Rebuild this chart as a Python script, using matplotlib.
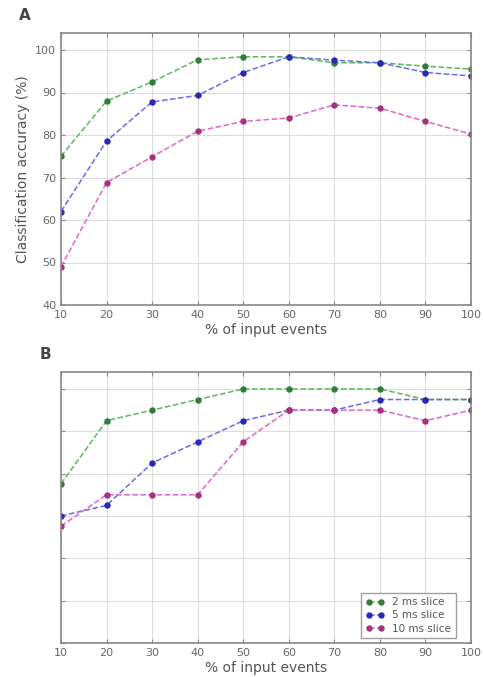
import numpy as np
import matplotlib
matplotlib.use('Agg')
import matplotlib.pyplot as plt

pct = [10, 20, 30, 40, 50, 60, 70, 80, 90, 100]

# panel A
a_2ms = [75, 88, 92.5, 97.7, 98.4, 98.4, 97.0, 97.0, 96.2, 95.5]
a_5ms = [62, 78.6, 87.8, 89.3, 94.7, 98.4, 97.6, 97.0, 94.7, 93.9]
a_10ms = [49, 68.8, 74.9, 80.9, 83.2, 84.0, 87.1, 86.3, 83.2, 80.2]

# panel B
b_2ms = [77.6, 92.5, 95.0, 97.5, 100, 100, 100, 100, 97.5, 97.5]
b_5ms = [70, 72.5, 82.5, 87.5, 92.5, 95, 95, 97.5, 97.5, 97.5]
b_10ms = [67.6, 75, 75, 75, 87.5, 95, 95, 95, 92.5, 95]

labels = ['2 ms slice', '5 ms slice', '10 ms slice']
line_cols = ['#5cb85c', '#6a6ae8', '#e066c8']
mark_cols = ['#2e7d3a', '#2a2ab0', '#a8307f']

fig = plt.figure(figsize=(4.83, 6.77), dpi=100)
W, H = 483.0, 677.0
axA = fig.add_axes([61/W, 1-305/H, 410/W, 272/H])
axB = fig.add_axes([61/W, 1-643/H, 410/W, 271/H])

def draw(ax, series):
    for ys, lab, lc, mc in zip(series, labels, line_cols, mark_cols):
        ax.plot(pct, ys, '--', color=lc, lw=1.1, marker='o', ms=3.6,
                mfc=mc, mec=mc, label=lab)
    ax.set_xlim(10, 100)
    ax.set_ylim(40, 104)
    ax.set_xticks(pct)
    ax.set_yticks(range(40, 101, 10))
    ax.grid(True, color='#dddddd', lw=0.8)
    for s in ax.spines.values():
        s.set_color('#888888')
        s.set_linewidth(1.2)
    ax.tick_params(colors='#888888', labelcolor='#666666', labelsize=8,
                   direction='in', length=3, top=True, right=True)
    ax.set_xlabel('% of input events', fontsize=10, color='#555555', labelpad=2)

draw(axA, [a_2ms, a_5ms, a_10ms])
axA.set_ylabel('Classification accuracy (%)', fontsize=10, color='#555555')

draw(axB, [b_2ms, b_5ms, b_10ms])
axB.tick_params(axis='y', labelleft=False)
leg = axB.legend(loc='lower right', numpoints=2, fontsize=7.5, frameon=True,
                 fancybox=False, handlelength=1.8, borderpad=0.4,
                 labelspacing=0.3, bbox_to_anchor=(0.975, 0.0))
leg.get_frame().set_edgecolor('#888888')
for t in leg.get_texts():
    t.set_color('#555555')

fig.text(25/W, 1-16/H, 'A', fontsize=11, fontweight='bold', color='#444444',
         va='center', ha='center')
fig.text(45/W, 1-354/H, 'B', fontsize=11, fontweight='bold', color='#444444',
         va='center', ha='center')

fig.savefig('out.png', dpi=100)
